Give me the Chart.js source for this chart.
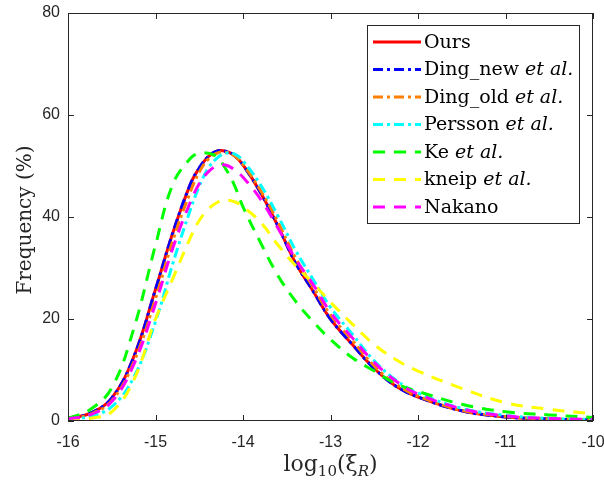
<!DOCTYPE html>
<html>
<head>
<meta charset="utf-8">
<script src="https://cdn.jsdelivr.net/npm/chart.js@4"></script>
<style>
  body { margin: 0; background: #fff; }
  #wrap { width: 604px; height: 485px; }
</style>
</head>
<body>
<div id="wrap"><canvas id="chart" width="604" height="485"></canvas></div>
<script>
// log10(xi_R) sample positions
const xValues = [-16, -15.75, -15.5, -15.25, -15, -14.8, -14.6, -14.5, -14.4, -14.3, -14.2, -14.1, -14,
  -13.8, -13.6, -13.4, -13.2, -13, -12.75, -12.5, -12.25, -12, -11.5, -11, -10.5, -10];

const ours     = [0.5, 1.5, 4.5, 12.5, 25.8, 37, 46.5, 49.6, 51.8, 52.9, 52.9, 52.1, 50.2, 44.8, 38.2, 31, 25.5, 20, 15, 10.3, 6.8, 4.7, 2, 0.8, 0.4, 0.2];
const dingNew  = [0.5, 1.5, 4.5, 12.5, 25.8, 37, 46.5, 49.6, 51.8, 52.9, 52.9, 52.1, 50.2, 44.8, 38.2, 31, 25.5, 20, 15, 10.3, 6.8, 4.7, 2, 0.8, 0.4, 0.2];
const dingOld  = [0.4, 1.3, 4, 11.5, 24, 35.5, 45, 48.8, 51.3, 52.5, 52.7, 52, 50.3, 45.2, 39, 32, 26.3, 20.8, 15.8, 10.8, 7.2, 4.9, 2.1, 0.9, 0.4, 0.2];
const persson  = [0.3, 0.9, 2.8, 8.5, 19.5, 31, 41.5, 46, 49.5, 51.5, 52.5, 52.4, 51, 46.3, 40.2, 33.5, 27.8, 22.3, 17, 11.8, 8, 5.5, 2.5, 1.1, 0.5, 0.3];
const ke       = [0.5, 2.2, 6.5, 18, 34.5, 46.5, 51.5, 52.5, 52.5, 51.8, 49.5, 46.3, 42, 35, 28.5, 23.5, 19.5, 16, 12.4, 9.8, 7.3, 5.8, 3.3, 1.8, 1.2, 0.7];
const kneip    = [0.2, 0.5, 1.8, 8, 20, 28, 36, 39.3, 41.5, 42.8, 43.3, 43, 42, 39, 34.5, 30.5, 27, 23.3, 19, 15, 12, 9.8, 6.4, 3.6, 2.3, 1.4];
const nakano   = [0.4, 1.2, 3.8, 11, 23, 34, 43, 46.5, 48.8, 50, 50.2, 49.3, 47.8, 43.5, 37.8, 31.8, 26.8, 21.3, 16.3, 11.5, 7.8, 5.3, 2.4, 1, 0.5, 0.3];

const xTicks = [-16, -15, -14, -13, -12, -11, -10];
const yTicks = [0, 20, 40, 60, 80];

const seriesNames = ['Ours', 'Ding_new', 'Ding_old', 'Persson', 'Ke', 'kneip', 'Nakano'];
const seriesEtAl  = [false, true, true, true, true, true, false];
const seriesData  = [ours, dingNew, dingOld, persson, ke, kneip, nakano];
const seriesColor = ['#ff0000', '#0000ff', '#ff7f00', '#00ffff', '#00ff00', '#ffff00', '#ff00ff'];
const dashDot = [10, 4, 3, 4];
const dashed = [12, 9];
const seriesDash  = [[], dashDot, dashDot, dashDot, dashed, dashed, dashed];

const axisColor = '#262626';
const serif = '"DejaVu Serif", serif';

const datasets = seriesNames.map((name, i) => ({
  label: name,
  data: xValues.map((x, j) => ({ x: x, y: seriesData[i][j] })),
  borderColor: seriesColor[i],
  borderWidth: 3,
  borderDash: seriesDash[i],
  pointRadius: 0,
  fill: false,
  tension: 0.4,
  order: seriesNames.length - i
}));

// box, inward ticks, axis titles and legend, drawn the way the figure does it
const matlabLook = {
  id: 'matlabLook',
  afterDatasetsDraw(chart) {
    const ctx = chart.ctx;
    const a = chart.chartArea;
    const xs = chart.scales.x, ys = chart.scales.y;
    ctx.save();
    ctx.strokeStyle = axisColor;
    ctx.lineWidth = 1;
    ctx.setLineDash([]);
    ctx.strokeRect(a.left + 0.5, a.top + 0.5, a.right - a.left - 1, a.bottom - a.top - 1);
    ctx.beginPath();
    xTicks.forEach(v => {
      const p = Math.round(xs.getPixelForValue(v)) + 0.5;
      ctx.moveTo(p, a.bottom); ctx.lineTo(p, a.bottom - 6);
      ctx.moveTo(p, a.top); ctx.lineTo(p, a.top + 6);
    });
    yTicks.forEach(v => {
      const p = Math.round(ys.getPixelForValue(v)) + 0.5;
      ctx.moveTo(a.left, p); ctx.lineTo(a.left + 6, p);
      ctx.moveTo(a.right, p); ctx.lineTo(a.right - 6, p);
    });
    ctx.stroke();

    // legend
    const lx = a.right - 226, ly = a.top + 12, lw = 212, lh = 198;
    ctx.fillStyle = '#fff';
    ctx.fillRect(lx, ly, lw, lh);
    ctx.strokeStyle = axisColor;
    ctx.strokeRect(lx + 0.5, ly + 0.5, lw, lh);
    ctx.textBaseline = 'middle';
    seriesNames.forEach((name, i) => {
      const y = ly + 17 + i * 27.5;
      ctx.beginPath();
      ctx.strokeStyle = seriesColor[i];
      ctx.lineWidth = 3;
      ctx.setLineDash(seriesDash[i]);
      ctx.moveTo(lx + 6, y); ctx.lineTo(lx + 54, y);
      ctx.stroke();
      ctx.setLineDash([]);
      ctx.fillStyle = '#000';
      ctx.font = '19px ' + serif;
      ctx.textAlign = 'left';
      let tx = lx + 57;
      ctx.fillText(name, tx, y + 1);
      if (seriesEtAl[i]) {
        tx += ctx.measureText(name + ' ').width;
        ctx.font = 'italic 19px ' + serif;
        ctx.fillText('et al.', tx, y + 1);
      }
    });

    // y title
    ctx.fillStyle = axisColor;
    ctx.save();
    ctx.translate(26, (a.top + a.bottom) / 2 + 3);
    ctx.rotate(-Math.PI / 2);
    ctx.font = '20px ' + serif;
    ctx.textAlign = 'center';
    ctx.textBaseline = 'middle';
    ctx.fillText('Frequency (%)', 0, 0);
    ctx.restore();

    // x title: log10(ξR)
    const parts = [
      { t: 'log', f: '22px ' + serif, dy: 0 },
      { t: '10', f: '15px ' + serif, dy: 5 },
      { t: '(ξ', f: '22px ' + serif, dy: 0 },
      { t: 'R', f: 'italic 15px ' + serif, dy: 5 },
      { t: ')', f: '22px ' + serif, dy: 0 }
    ];
    let total = 0;
    parts.forEach(p => { ctx.font = p.f; p.w = ctx.measureText(p.t).width; total += p.w; });
    let px = (a.left + a.right) / 2 - total / 2;
    const base = a.bottom + 50;
    ctx.textAlign = 'left';
    ctx.textBaseline = 'alphabetic';
    parts.forEach(p => { ctx.font = p.f; ctx.fillText(p.t, px, base + p.dy); px += p.w; });
    ctx.restore();
  }
};

new Chart(document.getElementById('chart'), {
  type: 'line',
  data: { datasets: datasets },
  options: {
    responsive: false,
    animation: false,
    layout: { padding: { top: 13, right: 11, left: 0, bottom: 0 } },
    plugins: { legend: { display: false }, tooltip: { enabled: false } },
    scales: {
      x: {
        type: 'linear', min: -16, max: -10,
        afterBuildTicks: s => { s.ticks = xTicks.map(v => ({ value: v })); },
        afterFit: s => { s.height = 64; s.paddingLeft = 0; s.paddingRight = 0; },
        grid: { display: false }, border: { display: false },
        ticks: { color: axisColor, padding: 4, maxRotation: 0, font: { family: '"Liberation Sans", sans-serif', size: 16 } }
      },
      y: {
        min: 0, max: 80,
        afterBuildTicks: s => { s.ticks = yTicks.map(v => ({ value: v })); },
        afterFit: s => { s.width = 68; s.paddingTop = 0; s.paddingBottom = 0; },
        grid: { display: false }, border: { display: false },
        ticks: { color: axisColor, padding: 0, font: { family: '"Liberation Sans", sans-serif', size: 16 } }
      }
    }
  },
  plugins: [matlabLook]
});
</script>
</body>
</html>
